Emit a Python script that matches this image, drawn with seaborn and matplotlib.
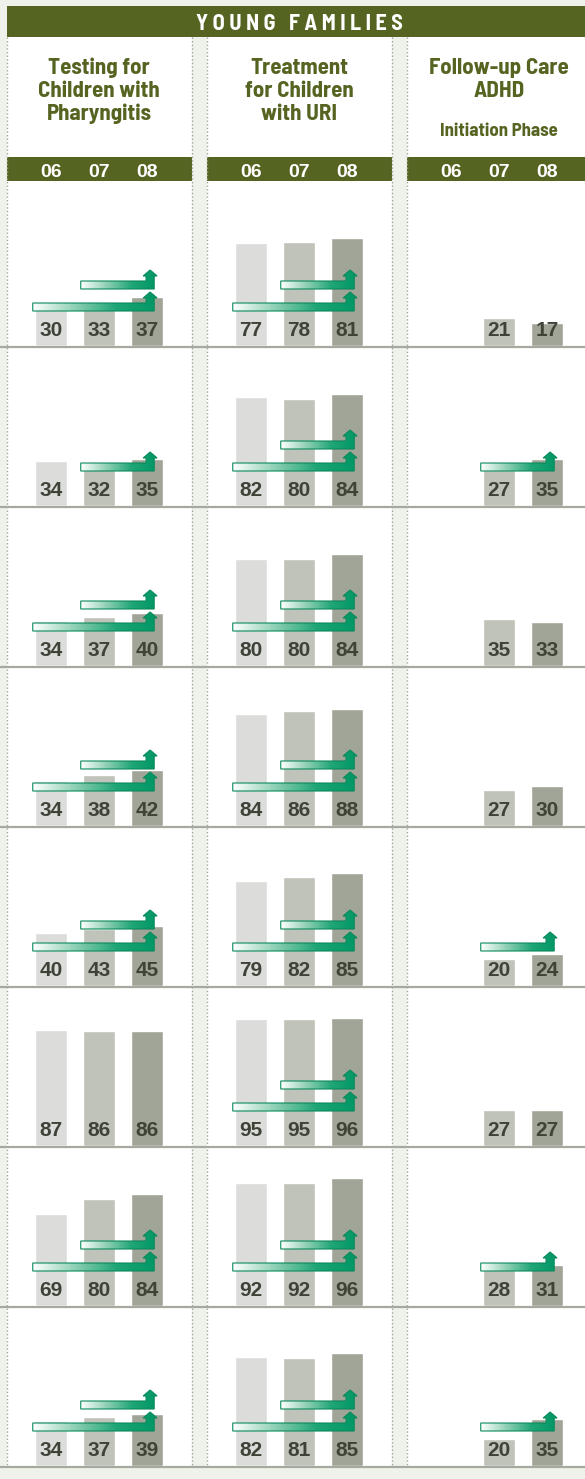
import numpy as np
import pandas as pd
import matplotlib
matplotlib.use("Agg")
import matplotlib.pyplot as plt
from matplotlib.colors import LinearSegmentedColormap
from matplotlib.patches import Polygon, Rectangle
import seaborn as sns

sns.set_style("white")
plt.rcParams['font.family'] = ['Liberation Sans', 'DejaVu Sans']
cond = ['Barlow Semi Condensed', 'DejaVu Sans']   # narrow headline font

# data
header = "YOUNG FAMILIES"
years = ["06", "07", "08"]
measures = ["Testing for\nChildren with\nPharyngitis",
            "Treatment\nfor Children\nwith URI",
            "Follow-up Care\nADHD"]
adhd_note = "Initiation Phase"

# one entry per plan (row), values for 06 / 07 / 08
pharyngitis = [[30, 33, 37], [34, 32, 35], [34, 37, 40], [34, 38, 42],
               [40, 43, 45], [87, 86, 86], [69, 80, 84], [34, 37, 39]]
uri = [[77, 78, 81], [82, 80, 84], [80, 80, 84], [84, 86, 88],
       [79, 82, 85], [95, 95, 96], [92, 92, 96], [82, 81, 85]]
adhd = [[None, 21, 17], [None, 27, 35], [None, 35, 33], [None, 27, 30],
        [None, 20, 24], [None, 27, 27], [None, 28, 31], [None, 20, 35]]

# improvement arrows (start year -> 08)
pharyngitis_arrows = [["06", "07"], ["07"], ["06", "07"], ["06", "07"],
                      ["06", "07"], [], ["06", "07"], ["06", "07"]]
uri_arrows = [["06", "07"]] * 8
adhd_arrows = [[], ["07"], [], [], ["07"], [], ["07"], ["07"]]

columns = [(pharyngitis, pharyngitis_arrows), (uri, uri_arrows), (adhd, adhd_arrows)]

# colours
olive = '#566422'
bg_col = '#eff2ea'
bar_colors = {"06": '#dcddda', "07": '#c0c3b9', "08": '#a1a597'}
label_col = '#3e4338'
line_col = '#a6aa9e'
arrow_cmap = LinearSegmentedColormap.from_list(
    'arr', ['#ffffff', '#8fd0b4', '#1fa576', '#009664'])
arrow_edge = '#0a8a5c'

# layout (pixels)
W, H = 585, 1479
col_left = [7, 207, 407]
col_right = [192, 392, 585]
first_base, row_step = 346, 160
px_x = 48.0       # pixels between year bars
first_center = 44  # first bar centre from panel edge
px_y = 4.0 / 3.0   # pixels per percentage point

fig = plt.figure(figsize=(W / 100, H / 100), dpi=100, facecolor=bg_col)

# background / decoration
bg = fig.add_axes([0, 0, 1, 1])
bg.set_xlim(0, W)
bg.set_ylim(H, 0)
bg.axis('off')
last_base = first_base + row_step * (len(pharyngitis) - 1)
for l, r in zip(col_left, col_right):
    bg.add_patch(Rectangle((l, 37), r - l, last_base - 37, facecolor='white', edgecolor='none'))
    bg.add_patch(Rectangle((l, 157), r - l, 24, facecolor=olive, edgecolor='none'))
    for x in (l, r):
        if x < W - 1:
            bg.plot([x, x], [37, last_base], color='#9fa397', lw=1.0, ls=(0, (1, 1.6)))
bg.add_patch(Rectangle((7, 6), W - 7, 31, facecolor=olive, edgecolor='none'))
bg.text(299, 29.5, "   ".join(" ".join(w) for w in header.split()), ha='center',
        va='baseline', color='white', fontsize=16, fontweight='bold', family=cond)
for r in range(len(pharyngitis)):
    b = first_base + r * row_step
    bg.plot([0, W], [b + 1, b + 1], color=line_col, lw=1.6, solid_capstyle='butt')

# titles and year strips
for c, (l, r) in enumerate(zip(col_left, col_right)):
    mid = l + first_center + px_x
    for k, line in enumerate(measures[c].split("\n")):
        bg.text(mid, 73.5 + k * 23.3, line, ha='center', va='baseline', color=olive,
                fontsize=16.5, fontweight='bold', family=cond)
    if c == 2:
        bg.text(mid, 136.5, adhd_note, ha='center', va='baseline', color=olive,
                fontsize=13.5, fontweight='bold', family=cond)
    for i, y in enumerate(years):
        bg.text(l + first_center + i * px_x, 177, y, ha='center', va='baseline',
                color='white', fontsize=14, fontweight='bold')

grad = np.linspace(0, 1, 256).reshape(1, -1)


def draw_arrow(ax, start, level):
    u = 1 / px_y
    c = (39 if level == 0 else 61) * u
    xs = start - 0.38
    xe, xl, hl, hr, tip = 2.15, 1.98, 1.92, 2.21, 2.065
    pts = [(xs, c - 4 * u), (xe, c - 4 * u), (xe, c + 9 * u), (hr, c + 9 * u),
           (tip, c + 15 * u), (hl, c + 9 * u), (xl, c + 9 * u), (xl, c + 4 * u),
           (xs, c + 4 * u)]
    poly = Polygon(pts, closed=True, facecolor='none', edgecolor=arrow_edge,
                   lw=0.8, zorder=4)
    ax.add_patch(poly)
    im = ax.imshow(grad, extent=(xs, hr, c - 4 * u, c + 15 * u), cmap=arrow_cmap,
                   aspect='auto', zorder=3, interpolation='bilinear')
    im.set_clip_path(poly)


for c, (vals, arrs) in enumerate(columns):
    l, r = col_left[c], col_right[c]
    w = r - l
    for row in range(len(vals)):
        b = first_base + row * row_step
        ax = fig.add_axes([l / W, 1 - b / H, w / W, row_step / H])
        df = pd.DataFrame({"year": years,
                           "value": [np.nan if v is None else v for v in vals[row]]})
        sns.barplot(data=df, x="year", y="value", hue="year", order=years,
                    hue_order=years, palette=bar_colors, width=0.67,
                    errorbar=None, legend=False, saturation=1, ax=ax)
        for i, v in enumerate(vals[row]):
            if v is not None:
                ax.text(i, 15.5 / px_y, str(v), ha='center', va='center',
                        fontsize=15, fontweight='bold', color=label_col, zorder=5)
        for level, s in enumerate(arrs[row]):
            draw_arrow(ax, years.index(s), level)
        ax.set_xlim(-first_center / px_x, (w - first_center) / px_x)
        ax.set_ylim(0, row_step / px_y)
        ax.axis('off')

fig.savefig("out.png", dpi=100, facecolor=bg_col)
